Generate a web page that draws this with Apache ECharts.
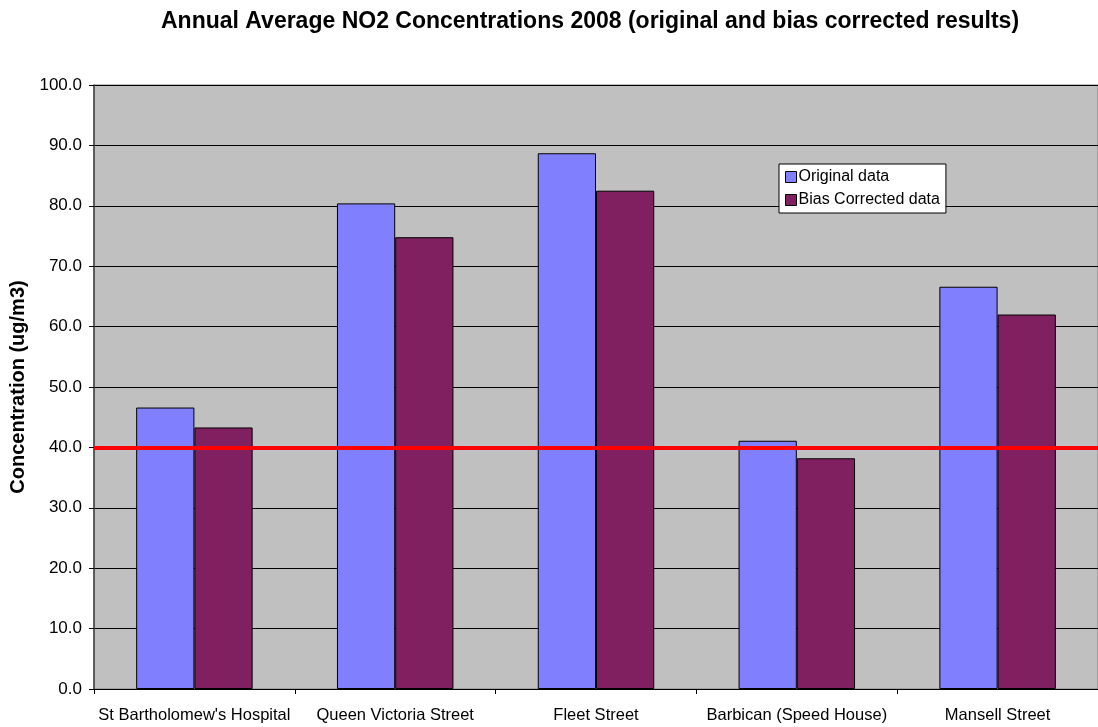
<!DOCTYPE html>
<html>
<head>
<meta charset="utf-8">
<script src="https://cdn.jsdelivr.net/npm/echarts@6/dist/echarts.min.js"></script>
<style>
html, body { margin: 0; padding: 0; background: #fff; }
#chart { width: 1098px; height: 727px; }
</style>
</head>
<body>
<div id="chart"></div>
<script>
// sites along the x axis
const sites = ["St Bartholomew's Hospital", 'Queen Victoria Street', 'Fleet Street', 'Barbican (Speed House)', 'Mansell Street'];
// annual mean NO2 (ug/m3)
const originalData = [46.6, 80.4, 88.7, 41.1, 66.6];
const biasCorrected = [43.3, 74.8, 82.5, 38.2, 62.0];
// air quality objective
const objective = 40;

const chart = echarts.init(document.getElementById('chart'));

const font = 'Arial, "Liberation Sans", sans-serif';

const option = {
	animation: false,
	textStyle: { fontFamily: font },
	title: {
		text: 'Annual Average NO2 Concentrations 2008 (original and bias corrected results)',
		left: 161,
		top: 10,
		padding: 0,
		textStyle: { fontSize: 23, fontWeight: 'bold', color: '#000', fontFamily: font },
	},
	legend: {
		orient: 'vertical',
		left: 779,
		top: 164,
		padding: [5, 6, 5, 6],
		backgroundColor: '#fff',
		borderColor: '#000',
		borderWidth: 1,
		itemWidth: 11,
		itemHeight: 11,
		itemGap: 7,
		icon: 'rect',
		textStyle: { fontSize: 16, lineHeight: 16, color: '#000', padding: [0, 0, 0, -3], fontFamily: font },
		itemStyle: { borderColor: '#000', borderWidth: 1 },
		data: ['Original data', 'Bias Corrected data'],
	},
	grid: {
		left: 94,
		right: 0,
		top: 85,
		bottom: 38,
		show: true,
		backgroundColor: '#c0c0c0',
		borderColor: '#808080',
		borderWidth: 1,
	},
	xAxis: {
		type: 'category',
		data: sites,
		boundaryGap: true,
		axisLine: { lineStyle: { color: '#000', width: 1 } },
		axisTick: { show: true, length: 5, lineStyle: { color: '#000' } },
		axisLabel: { color: '#000', fontSize: 16.5, margin: 18, interval: 0, fontFamily: font },
	},
	yAxis: {
		type: 'value',
		min: 0,
		max: 100,
		interval: 10,
		name: 'Concentration (ug/m3)',
		nameLocation: 'middle',
		nameGap: 60,
		nameTextStyle: { fontSize: 20, fontWeight: 'bold', color: '#000', fontFamily: font },
		axisLine: { show: true, lineStyle: { color: '#404040', width: 1.5 } },
		axisTick: { show: true, length: 5, lineStyle: { color: '#000' } },
		axisLabel: {
			color: '#000',
			fontSize: 17,
			margin: 12,
			fontFamily: font,
			formatter: (v) => v.toFixed(1),
		},
		splitLine: { show: true, lineStyle: { color: '#000', width: 1 } },
	},
	series: [
		{
			name: 'Original data',
			type: 'bar',
			data: originalData,
			barGap: '0%',
			barCategoryGap: '42%',
			itemStyle: { color: '#8080ff', borderColor: '#000', borderWidth: 1 },
			markLine: {
				silent: true,
				symbol: 'none',
				label: { show: false },
				lineStyle: { color: '#ff0000', width: 4, type: 'solid' },
				data: [{ yAxis: objective }],
			},
			z: 2,
		},
		{
			name: 'Bias Corrected data',
			type: 'bar',
			data: biasCorrected,
			barGap: '0%',
			barCategoryGap: '42%',
			itemStyle: { color: '#802060', borderColor: '#000', borderWidth: 1 },
			z: 2,
		},
	],
};

chart.setOption(option);
</script>
</body>
</html>
